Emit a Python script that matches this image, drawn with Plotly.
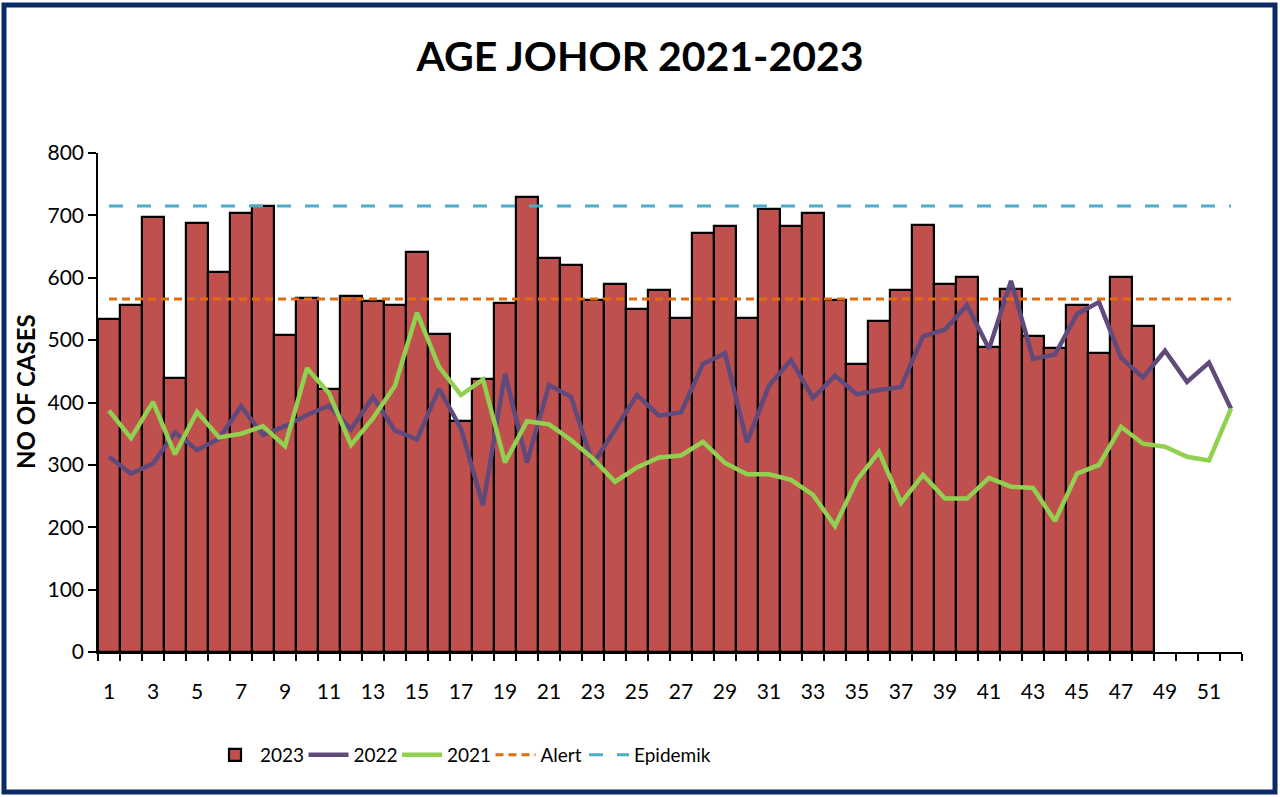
import plotly.graph_objects as go

# ---------------- data ----------------
weeks_2023 = list(range(1, 49))
cases_2023 = [534, 556, 697, 440, 687, 609, 704, 715, 508, 567, 421, 570, 562, 557, 641, 510,
              370, 437, 559, 730, 632, 621, 565, 590, 550, 580, 535, 671, 683, 536, 710, 683,
              704, 564, 462, 530, 581, 685, 590, 602, 489, 582, 507, 488, 557, 479, 601, 523]

weeks = list(range(1, 53))
cases_2022 = [313, 286, 302, 352, 324, 342, 394, 348, 362, 380, 395, 357, 409, 355, 341, 422,
              358, 235, 446, 304, 428, 409, 301, 357, 412, 379, 384, 462, 479, 336, 427, 468,
              407, 443, 413, 420, 425, 506, 517, 556, 486, 595, 470, 477, 542, 561, 472, 440,
              483, 433, 464, 390]
cases_2021 = [387, 343, 401, 317, 385, 344, 350, 362, 330, 455, 415, 332, 375, 427, 544, 457,
              412, 437, 304, 370, 365, 340, 310, 273, 296, 312, 315, 337, 303, 285, 285, 276,
              252, 202, 276, 321, 239, 284, 246, 246, 279, 265, 263, 210, 286, 300, 361, 334,
              329, 313, 307, 390]
alert_level = 566
epidemic_level = 715
alert_line = [alert_level] * len(weeks)
epidemic_line = [epidemic_level] * len(weeks)

x_tick_vals = list(range(1, 53, 2))
y_tick_vals = list(range(0, 801, 100))

# ---------------- layout geometry ----------------
W, H = 1280, 797
ML, MR, MT, MB = 98, 38, 153, 145
PW, PH = W - ML - MR, H - MT - MB


def px_x(p):
    return (p - ML) / PW


def px_y(p):
    return (H - MB - p) / PH


FONT = "Lato"

fig = go.Figure()
fig.add_trace(go.Bar(x=weeks_2023, y=cases_2023, name="2023",
                     marker=dict(color="#C0504D", line=dict(color="black", width=2.2))))
fig.add_trace(go.Scatter(x=weeks, y=cases_2022, name="2022", mode="lines",
                         line=dict(color="#604A7B", width=4.5)))
fig.add_trace(go.Scatter(x=weeks, y=cases_2021, name="2021", mode="lines",
                         line=dict(color="#92D050", width=4.5)))
fig.add_trace(go.Scatter(x=weeks, y=alert_line, name="Alert", mode="lines",
                         line=dict(color="#E46C0A", width=3, dash="8px,5px")))
fig.add_trace(go.Scatter(x=weeks, y=epidemic_line, name="Epidemik", mode="lines",
                         line=dict(color="#4BACC6", width=3, dash="14px,14px")))
# empty spacer entry so the last legend label is not clipped
fig.add_trace(go.Scatter(x=[None], y=[None], name=" ", mode="lines",
                         line=dict(color="rgba(0,0,0,0)", width=0), hoverinfo="skip"))

fig.update_layout(
    width=W, height=H,
    margin=dict(l=ML, r=MR, t=MT, b=MB),
    paper_bgcolor="white", plot_bgcolor="white",
    bargap=0,
    font=dict(family=FONT, color="black", size=21),
    title=dict(text="<b>AGE JOHOR 2021-2023</b>", x=0.5, xanchor="center",
               y=1 - 57 / H, yanchor="middle", font=dict(family=FONT, size=41, color="black")),
    showlegend=True,
    legend=dict(orientation="h", x=px_x(210), xanchor="left", y=px_y(755), yanchor="middle",
                itemwidth=40, entrywidth=38.5, entrywidthmode="pixels",
                font=dict(family=FONT, size=19, color="black"), bgcolor="rgba(0,0,0,0)",
                traceorder="normal"),
    xaxis=dict(range=[0.5, 52.5], tickmode="array", tickvals=x_tick_vals,
               ticks="", showgrid=False, zeroline=False, showline=True,
               linecolor="black", linewidth=1.5, ticklabelstandoff=20,
               tickfont=dict(family=FONT, size=21, color="black"),
               minor=dict(tickmode="linear", tick0=0.5, dtick=1, ticks="outside",
                          ticklen=7, tickwidth=1.5, tickcolor="black", showgrid=False)),
    yaxis=dict(range=[0, 800], tickmode="array", tickvals=y_tick_vals,
               ticks="outside", ticklen=8, tickwidth=1.5, tickcolor="black",
               showgrid=False, zeroline=False, showline=True, linecolor="black", linewidth=1.5,
               tickfont=dict(family=FONT, size=21, color="black")),
)

fig.add_annotation(text="<b>NO OF CASES</b>", textangle=-90, xref="paper", yref="paper",
                   x=px_x(25), y=px_y(392), xanchor="center", yanchor="middle",
                   showarrow=False, font=dict(family=FONT, size=24, color="black"))

fig.add_shape(type="rect", xref="paper", yref="paper",
              x0=px_x(4), x1=px_x(1275), y0=px_y(792), y1=px_y(5),
              line=dict(color="#0B2A66", width=5), fillcolor="rgba(0,0,0,0)", layer="above")

fig.write_html("out.html", config={"displayModeBar": False},
               post_script="document.body.style.margin='0';document.body.style.padding='0';"
                           "document.body.style.overflow='hidden';")
